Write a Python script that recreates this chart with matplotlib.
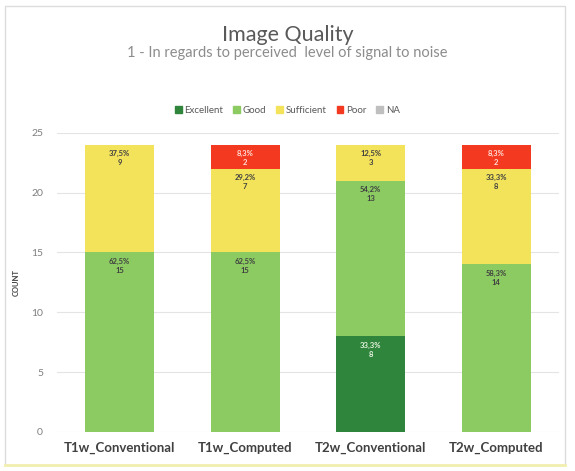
import numpy as np
import matplotlib
matplotlib.use('Agg')
import matplotlib.pyplot as plt
from matplotlib.patches import Patch, Rectangle
from matplotlib.lines import Line2D

categories = ["T1w_Conventional", "T1w_Computed", "T2w_Conventional", "T2w_Computed"]
levels = ["Excellent", "Good", "Sufficient", "Poor", "NA"]
excellent = [0, 0, 8, 0]
good = [15, 15, 13, 14]
sufficient = [9, 7, 3, 8]
poor = [0, 2, 0, 2]
na = [0, 0, 0, 0]
yticks = [0, 5, 10, 15, 20, 25]

colors = ["#2f853c", "#8ccb62", "#f3e35b", "#f3391f", "#bfbfbf"]
text_cols = ["#e8f3e0", "#404040", "#404040", "#fde0d8", "#404040"]

plt.rcParams['font.family'] = ['Lato', 'DejaVu Sans']

fig = plt.figure(figsize=(5.75, 4.71), dpi=100)
ax = fig.add_axes([0.099, 0.083, 0.873, 0.635])

series = [excellent, good, sufficient, poor, na]
x = np.arange(len(categories))
totals = np.sum(series, axis=0)
bottom = np.zeros(len(categories))
for name, vals, c, tc in zip(levels, series, colors, text_cols):
    vals = np.array(vals, dtype=float)
    ax.bar(x, vals, 0.55, bottom=bottom, color=c, zorder=2, label=name)
    for xi, v, b, t in zip(x, vals, bottom, totals):
        if v > 0:
            pct = f"{100 * v / t:.1f}%".replace(".", ",")
            ax.text(xi, b + v - 0.45, f"{pct}\n{int(v)}", ha='center', va='top',
                    fontsize=5.5, fontweight='bold', color=tc, linespacing=1.35, zorder=3)
    bottom += vals

ax.set_xlim(-0.5, 3.5)
ax.set_ylim(0, 25)
ax.set_yticks(yticks)
ax.yaxis.grid(True, color="#e4e4e4", lw=0.8, zorder=0)
ax.set_axisbelow(True)
for s in ax.spines.values():
    s.set_visible(False)
ax.tick_params(axis='both', length=0)
ax.tick_params(axis='y', labelsize=7.5, labelcolor="#7f7f7f", pad=10)
ax.set_xticks(x)
ax.set_xticklabels(categories, fontsize=9.5, fontweight='bold', color="#404040")
ax.tick_params(axis='x', pad=7)
ax.set_ylabel("COUNT", fontsize=5.5, fontweight='bold', color="#404040", labelpad=8)

fig.text(0.5, 0.925, "Image Quality", ha='center', va='center', fontsize=15.5, color="#595959")
fig.text(0.5, 0.887, "1 - In regards to perceived  level of signal to noise", ha='center',
         va='center', fontsize=10.5, color="#8c8c8c")

handles = [Patch(color=c, label=n) for n, c in zip(levels, colors)]
fig.legend(handles=handles, loc='center', bbox_to_anchor=(0.5, 0.766), ncol=5, frameon=False,
           fontsize=7, handlelength=0.7, handleheight=0.7, handletextpad=0.3,
           columnspacing=1.0, labelcolor="#595959")

fig.patches.append(Rectangle((0.008, 0.012), 0.975, 0.976, transform=fig.transFigure,
                             fill=False, edgecolor="#dcdcdc", lw=1))
fig.lines.append(Line2D([0.008, 0.983], [0.012, 0.012], transform=fig.transFigure,
                        color="#f2eeb0", lw=2))

fig.savefig("out.png", dpi=100)
